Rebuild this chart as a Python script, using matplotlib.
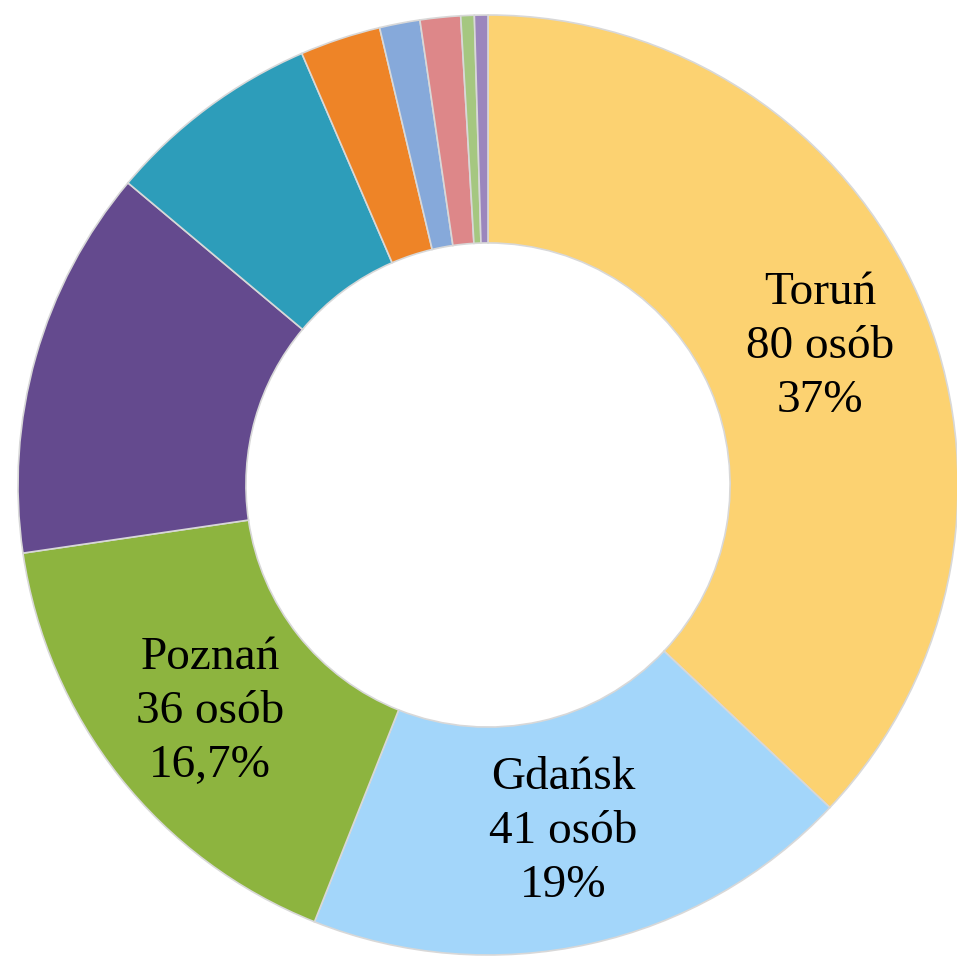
import matplotlib
matplotlib.use("Agg")
import matplotlib.pyplot as plt

# data (216 people in total)
cities = ["Toruń", "Gdańsk", "Poznań", "inne 1", "inne 2", "inne 3", "inne 4", "inne 5", "inne 6", "inne 7"]
people = [80, 41, 36, 29, 16, 6, 3, 3, 1, 1]
percent_labels = ["37%", "19%", "16,7%"]
colors = ["#FCD271", "#A3D6FA", "#8DB43F", "#644A8E", "#2D9DBA",
          "#EE8427", "#86A9DA", "#DD8789", "#A5C780", "#9B86BD"]

# pixel geometry of the reference
W, H = 957, 961
cx, cy, R = 488, 485, 470

fig = plt.figure(figsize=(W / 100, H / 100), dpi=100)
ax = fig.add_axes([0, 0, 1, 1])

wedges, _ = ax.pie(people, colors=colors, startangle=90, counterclock=False,
                   radius=1.0,
                   wedgeprops=dict(width=0.485, edgecolor="#D8D8D8", linewidth=1.2))

ax.set_xlim(-cx / R, (W - cx) / R)
ax.set_ylim(-(H - cy) / R, cy / R)
ax.set_aspect("equal")
ax.axis("off")

label_pos = [(820, 347), (563, 832), (210, 712)]
for i, (px, py) in enumerate(label_pos):
    txt = f"{cities[i]}\n{people[i]} osób\n{percent_labels[i]}"
    ax.text((px - cx) / R, (cy - py) / R, txt, ha="center", va="center",
            fontsize=34, family="Liberation Serif", linespacing=1.36, color="black")

plt.savefig("out.png", dpi=100)
